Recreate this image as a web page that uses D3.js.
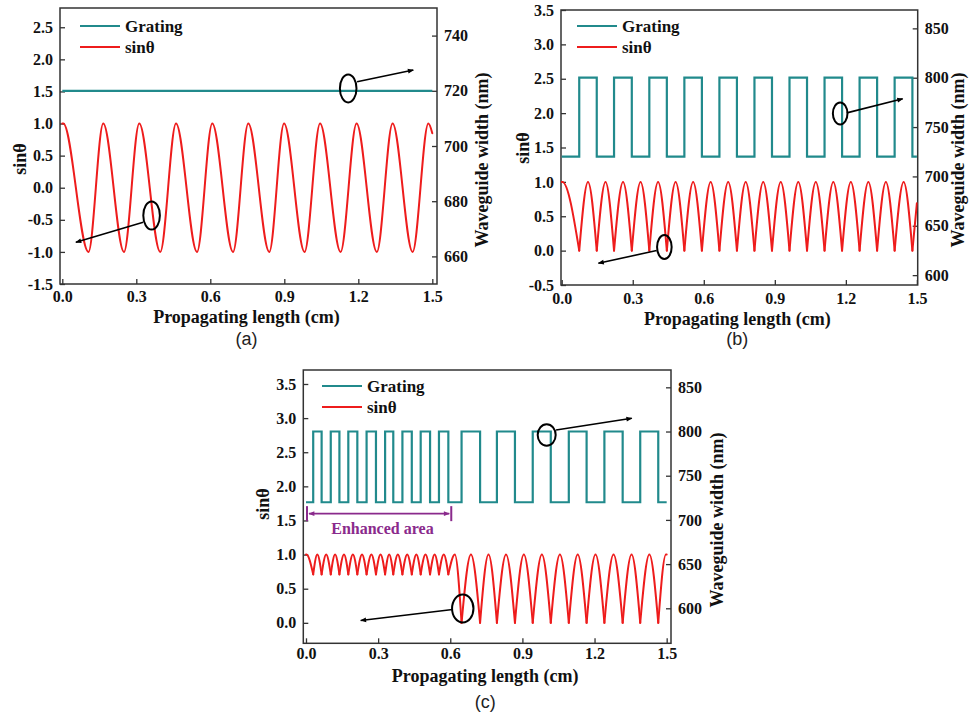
<!DOCTYPE html>
<html><head><meta charset="utf-8">
<script src="https://cdn.jsdelivr.net/npm/d3@7"></script>
<style>body{margin:0;background:#fff} svg{display:block}</style>
</head><body><svg id="chart" width="969" height="715"></svg>
<script>
// ---------- shared ----------
const xTicks = [0, 0.3, 0.6, 0.9, 1.2, 1.5];
const legendLabels = ["Grating", "sinθ"];

// ---------- panel (a) ----------
const aLeftTicks = [-1.5, -1.0, -0.5, 0.0, 0.5, 1.0, 1.5, 2.0, 2.5];
const aRightTicks = [660, 680, 700, 720, 740];
const aGratingX = [0, 1.5];
const aGratingW = [720, 720];
const aSinX = [0, 0.004, 0.106, 0.166, 0.250, 0.312, 0.397, 0.461, 0.546, 0.608, 0.692, 0.754, 0.839, 0.899, 0.982, 1.045, 1.128, 1.193, 1.275, 1.339, 1.420, 1.484, 1.5];
const aSinY = [1, 1, -1, 1, -1, 1, -1, 1, -1, 1, -1, 1, -1, 1, -1, 1, -1, 1, -1, 1, -1, 1, 0.85];

// ---------- panel (b) ----------
const bLeftTicks = [-0.5, 0.0, 0.5, 1.0, 1.5, 2.0, 2.5, 3.0, 3.5];
const bRightTicks = [600, 650, 700, 750, 800, 850];
const bGratingX = [0, 0.074, 0.148, 0.221, 0.296, 0.370, 0.444, 0.518, 0.592, 0.666, 0.740, 0.814, 0.888, 0.962, 1.036, 1.110, 1.184, 1.258, 1.332, 1.406, 1.481, 1.5];
const bGratingW = [720, 800, 720, 800, 720, 800, 720, 800, 720, 800, 720, 800, 720, 800, 720, 800, 720, 800, 720, 800, 720, 720];
const bSinX = [0, 0.003, 0.074, 0.111, 0.148, 0.185, 0.221, 0.259, 0.296, 0.333, 0.370, 0.407, 0.444, 0.481, 0.518, 0.555, 0.592, 0.629, 0.666, 0.703, 0.740, 0.777, 0.814, 0.851, 0.888, 0.925, 0.962, 0.999, 1.036, 1.073, 1.110, 1.147, 1.184, 1.221, 1.258, 1.295, 1.332, 1.369, 1.406, 1.444, 1.481, 1.5];
const bSinY = [1, 1, 0, 1, 0, 1, 0, 1, 0, 1, 0, 1, 0, 1, 0, 1, 0, 1, 0, 1, 0, 1, 0, 1, 0, 1, 0, 1, 0, 1, 0, 1, 0, 1, 0, 1, 0, 1, 0, 1, 0, 0.69];

// ---------- panel (c) ----------
const cLeftTicks = [0.0, 0.5, 1.0, 1.5, 2.0, 2.5, 3.0, 3.5];
const cRightTicks = [600, 650, 700, 750, 800, 850];
const cGratingX = [0, 0.030, 0.065, 0.103, 0.139, 0.176, 0.2135, 0.252, 0.291, 0.329, 0.363, 0.401, 0.440, 0.477, 0.516, 0.553, 0.592, 0.647, 0.724, 0.794, 0.869, 0.943, 1.018, 1.093, 1.167, 1.241, 1.317, 1.390, 1.465, 1.5];
const cGratingW = [720, 800, 720, 800, 720, 800, 720, 800, 720, 800, 720, 800, 720, 800, 720, 800, 720, 800, 720, 800, 720, 800, 720, 800, 720, 800, 720, 800, 720, 720];
const cSinX = [0, 0.002, 0.030, 0.047, 0.065, 0.084, 0.103, 0.121, 0.139, 0.158, 0.176, 0.195, 0.2135, 0.233, 0.252, 0.272, 0.291, 0.310, 0.329, 0.346, 0.363, 0.382, 0.401, 0.421, 0.440, 0.459, 0.477, 0.497, 0.516, 0.535, 0.553, 0.573, 0.592, 0.619, 0.647, 0.686, 0.724, 0.759, 0.794, 0.832, 0.869, 0.906, 0.943, 0.981, 1.018, 1.056, 1.093, 1.130, 1.167, 1.204, 1.241, 1.279, 1.317, 1.354, 1.390, 1.428, 1.465, 1.497, 1.5];
const cSinY = [1, 1, 0.71, 1, 0.71, 1, 0.71, 1, 0.71, 1, 0.71, 1, 0.71, 1, 0.71, 1, 0.71, 1, 0.71, 1, 0.71, 1, 0.71, 1, 0.71, 1, 0.71, 1, 0.71, 1, 0.71, 1, 0.71, 1, 0, 1, 0, 1, 0, 1, 0, 1, 0, 1, 0, 1, 0, 1, 0, 1, 0, 1, 0, 1, 0, 1, 0, 1, 1];
const enhancedRange = [0, 0.6];
const enhancedLabel = "Enhanced area";

// ---------- layout / style ----------
const TEAL = "#218a8c", RED = "#ee1c1c", PURPLE = "#8a2a8c";
const SERIF = "'Liberation Serif','Times New Roman',serif";
const SANS = "'Liberation Sans',Arial,sans-serif";

const panels = [
  { id: "a", caption: "(a)",
    box: {x0: 60, x1: 437, y0: 8, y1: 284}, xDom: [-0.0093, 1.519],
    leftDom: [-1.5, 2.8], rightDom: [650, 750],
    leftTicks: aLeftTicks, rightTicks: aRightTicks,
    gx: aGratingX, gw: aGratingW, sx: aSinX, sy: aSinY, cusps: false,
    legend: {x: 80, y: 26},
    leftTitle: {x: 20, y: 159}, rightTitle: {x: 482, y: 160},
    xTickY: 302, xTitleY: 322.5, captionY: 345,
    notes: [
      {cx: 1.159, cy: 1.547, rx: 8.3, ry: 14, ax0: 1.195, ay0: 1.65, ax1: 1.423, ay1: 1.833},
      {cx: 0.362, cy: -0.433, rx: 8.3, ry: 14, ax0: 0.328, ay0: -0.537, ax1: 0.055, ay1: -0.85}
    ]},
  { id: "b", caption: "(b)",
    box: {x0: 561, x1: 917.7, y0: 10, y1: 285}, xDom: [-0.003, 1.5034],
    leftDom: [-0.5, 3.5], rightDom: [590, 868.6],
    leftTicks: bLeftTicks, rightTicks: bRightTicks,
    gx: bGratingX, gw: bGratingW, sx: bSinX, sy: bSinY, cusps: true,
    legend: {x: 577, y: 26},
    leftTitle: {x: 523, y: 148}, rightTitle: {x: 958, y: 160},
    xTickY: 303.5, xTitleY: 324.5, captionY: 345,
    notes: [
      {cx: 1.176, cy: 1.994, rx: 7.3, ry: 11, ax0: 1.204, ay0: 2.004, ax1: 1.44, ay1: 2.208},
      {cx: 0.4335, cy: 0.051, rx: 7.3, ry: 12, ax0: 0.401, ay0: 0.001, ax1: 0.155, ay1: -0.183}
    ]},
  { id: "c", caption: "(c)",
    box: {x0: 303.3, x1: 671, y0: 370, y1: 643.3}, xDom: [-0.0112, 1.518],
    leftDom: [-0.30, 3.705], rightDom: [560.4, 869.6],
    leftTicks: cLeftTicks, rightTicks: cRightTicks,
    gx: cGratingX, gw: cGratingW, sx: cSinX, sy: cSinY, cusps: true,
    legend: {x: 322, y: 386},
    leftTitle: {x: 263, y: 504}, rightTitle: {x: 717, y: 520},
    xTickY: 659, xTitleY: 682, captionY: 708,
    enhanced: true,
    notes: [
      {cx: 1.001, cy: 2.752, rx: 9, ry: 10.7, ax0: 1.04, ay0: 2.826, ax1: 1.355, ay1: 2.997},
      {cx: 0.652, cy: 0.211, rx: 10.7, ry: 14, ax0: 0.610, ay0: 0.196, ax1: 0.2275, ay1: 0.0337}
    ]}
];

const svg = d3.select("#chart");
const defs = svg.append("defs");
function marker(id, color) {
  defs.append("marker").attr("id", id).attr("viewBox", "0 0 10 10")
    .attr("refX", 9).attr("refY", 5).attr("markerWidth", 9).attr("markerHeight", 6)
    .attr("markerUnits", "userSpaceOnUse").attr("orient", "auto-start-reverse")
    .append("path").attr("d", "M0,1 L10,5 L0,9 z").attr("fill", color);
}
marker("arrBlack", "#000");
marker("arrPurple", PURPLE);

function segments(xs, ys, cusps) {
  const pts = xs.map((x, i) => [x, ys[i]]);
  if (!cusps) return [pts];
  const segs = []; let cur = [pts[0]];
  for (let i = 1; i < pts.length; i++) {
    cur.push(pts[i]);
    if (i < pts.length - 1 && ys[i] < ys[i - 1] && ys[i] < ys[i + 1]) { segs.push(cur); cur = [pts[i]]; }
  }
  segs.push(cur);
  return segs;
}

panels.forEach(p => {
  const b = p.box;
  const x = d3.scaleLinear().domain(p.xDom).range([b.x0, b.x1]);
  const yl = d3.scaleLinear().domain(p.leftDom).range([b.y1, b.y0]);
  const yr = d3.scaleLinear().domain(p.rightDom).range([b.y1, b.y0]);
  const g = svg.append("g");

  defs.append("clipPath").attr("id", "clip" + p.id).append("rect")
    .attr("x", b.x0).attr("y", b.y0).attr("width", b.x1 - b.x0).attr("height", b.y1 - b.y0);

  const fmt1 = d => d.toFixed(1);
  const styleAxis = sel => {
    sel.select(".domain").remove();
    sel.selectAll("line").attr("stroke", "#333").attr("stroke-width", 1.3);
    sel.selectAll("text").attr("font-family", SERIF).attr("font-weight", "bold")
      .attr("font-size", 16).attr("fill", "#111");
  };
  g.append("g").attr("transform", `translate(0,${b.y1})`)
    .call(d3.axisBottom(x).tickValues(xTicks).tickFormat(fmt1).tickSize(-5).tickPadding(0))
    .call(styleAxis)
    .selectAll("text").attr("y", p.xTickY - b.y1).attr("dy", 0);
  g.append("g").attr("transform", `translate(${b.x0},0)`)
    .call(d3.axisLeft(yl).tickValues(p.leftTicks).tickFormat(fmt1).tickSize(-5).tickPadding(7))
    .call(styleAxis);
  g.append("g").attr("transform", `translate(${b.x1},0)`)
    .call(d3.axisRight(yr).tickValues(p.rightTicks).tickFormat(d3.format("d")).tickSize(-5).tickPadding(7))
    .call(styleAxis);

  g.append("rect").attr("x", b.x0).attr("y", b.y0).attr("width", b.x1 - b.x0).attr("height", b.y1 - b.y0)
    .attr("fill", "none").attr("stroke", "#333").attr("stroke-width", 1.5);

  const plot = g.append("g").attr("clip-path", `url(#clip${p.id})`);
  const gLine = d3.line().x(d => x(d[0])).y(d => yr(d[1])).curve(d3.curveStepAfter);
  plot.append("path").datum(p.gx.map((v, i) => [v, p.gw[i]]))
    .attr("d", gLine).attr("fill", "none").attr("stroke", TEAL).attr("stroke-width", 2.2);
  const sLine = d3.line().x(d => x(d[0])).y(d => yl(d[1])).curve(d3.curveMonotoneX);
  segments(p.sx, p.sy, p.cusps).forEach(seg => {
    plot.append("path").datum(seg).attr("d", sLine).attr("fill", "none")
      .attr("stroke", RED).attr("stroke-width", 2).attr("stroke-linecap", "round");
  });

  const L = p.legend;
  [TEAL, RED].forEach((c, i) => {
    const yy = L.y + i * 21;
    g.append("line").attr("x1", L.x).attr("x2", L.x + 40).attr("y1", yy).attr("y2", yy)
      .attr("stroke", c).attr("stroke-width", 2.2);
    g.append("text").attr("x", L.x + 45).attr("y", yy).attr("dy", "0.33em")
      .attr("font-family", SERIF).attr("font-weight", "bold").attr("font-size", 17)
      .attr("fill", "#111").text(legendLabels[i]);
  });

  p.notes.forEach(n => {
    g.append("ellipse").attr("cx", x(n.cx)).attr("cy", yl(n.cy)).attr("rx", n.rx).attr("ry", n.ry)
      .attr("fill", "none").attr("stroke", "#000").attr("stroke-width", 2);
    g.append("line").attr("x1", x(n.ax0)).attr("y1", yl(n.ay0)).attr("x2", x(n.ax1)).attr("y2", yl(n.ay1))
      .attr("stroke", "#000").attr("stroke-width", 1.6).attr("marker-end", "url(#arrBlack)");
  });

  if (p.enhanced) {
    const ya = yl(1.6), yt = yl(1.71), yb = yl(1.49);
    enhancedRange.forEach(v => {
      g.append("line").attr("x1", x(v) + 1).attr("x2", x(v) + 1).attr("y1", yt).attr("y2", yb)
        .attr("stroke", PURPLE).attr("stroke-width", 2);
    });
    g.append("line").attr("x1", x(enhancedRange[0]) + 3).attr("x2", x(enhancedRange[1]) - 1)
      .attr("y1", ya).attr("y2", ya).attr("stroke", PURPLE).attr("stroke-width", 1.6)
      .attr("marker-start", "url(#arrPurple)").attr("marker-end", "url(#arrPurple)");
    g.append("text").attr("x", x(0.318)).attr("y", yl(1.38)).attr("dy", "0.35em")
      .attr("text-anchor", "middle").attr("font-family", SERIF).attr("font-weight", "bold")
      .attr("font-size", 16).attr("fill", PURPLE).text(enhancedLabel);
  }

  const cx = (b.x0 + b.x1) / 2;
  g.append("text").attr("x", cx - 2).attr("y", p.xTitleY).attr("text-anchor", "middle")
    .attr("font-family", SERIF).attr("font-weight", "bold").attr("font-size", 18).attr("fill", "#111")
    .text("Propagating length (cm)");
  g.append("text").attr("transform", `translate(${p.leftTitle.x},${p.leftTitle.y}) rotate(-90)`)
    .attr("text-anchor", "middle").attr("dy", "0.35em")
    .attr("font-family", SERIF).attr("font-weight", "bold").attr("font-size", 18).attr("fill", "#111")
    .text("sinθ");
  g.append("text").attr("transform", `translate(${p.rightTitle.x},${p.rightTitle.y}) rotate(-90)`)
    .attr("text-anchor", "middle").attr("dy", "0.35em")
    .attr("font-family", SERIF).attr("font-weight", "bold").attr("font-size", 18).attr("fill", "#111")
    .text("Waveguide width (nm)");
  g.append("text").attr("x", cx - 2).attr("y", p.captionY).attr("text-anchor", "middle")
    .attr("font-family", SANS).attr("font-size", 18).attr("fill", "#222").text(p.caption);
});
</script>
</body></html>
